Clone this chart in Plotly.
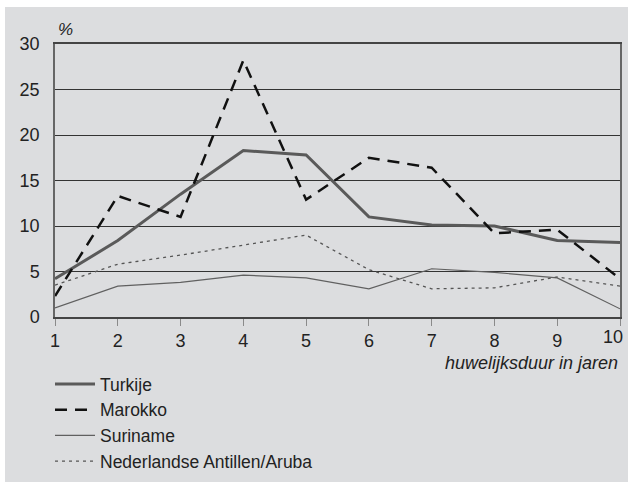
import plotly.graph_objects as go

years = [1, 2, 3, 4, 5, 6, 7, 8, 9, 10]
x_tick_labels = ["1", "2", "3", "4", "5", "6", "7", "8", "9", "10"]
turkije = [4.2, 8.4, 13.5, 18.3, 17.8, 11.0, 10.1, 10.0, 8.4, 8.2]
marokko = [2.3, 13.3, 11.0, 28.2, 12.9, 17.5, 16.4, 9.2, 9.6, 4.2]
suriname = [1.0, 3.4, 3.8, 4.6, 4.3, 3.1, 5.3, 4.9, 4.3, 0.9]
antillen = [3.5, 5.8, 6.8, 7.9, 9.0, 5.2, 3.1, 3.2, 4.4, 3.4]
y_ticks = [0, 5, 10, 15, 20, 25, 30]

FONT = "Liberation Sans, Arial, sans-serif"
GRAY_BG = "#dcdddf"
TXT = "#222222"
FS = 18

fig = go.Figure()
fig.add_trace(go.Scatter(x=years, y=turkije, mode="lines", name="Turkije",
                         line=dict(color="#5a5a5a", width=3)))
fig.add_trace(go.Scatter(x=years, y=marokko, mode="lines", name="Marokko",
                         line=dict(color="#111111", width=2.5, dash="12px,8px")))
fig.add_trace(go.Scatter(x=years, y=suriname, mode="lines", name="Suriname",
                         line=dict(color="#606060", width=1.2)))
fig.add_trace(go.Scatter(x=years, y=antillen, mode="lines", name="Nederlandse Antillen/Aruba",
                         line=dict(color="#555555", width=1.3, dash="3px,4px")))

L, R, T, B = 55, 8, 44, 165
W, H = 628, 482
pw, ph = W - L - R, H - T - B
px = lambda p: (p - L) / pw
py = lambda p: (H - B - p) / ph

# the last tick label sits slightly left of its tick in the reference (kept inside the page)
tick_text = x_tick_labels[:-1] + [""]

fig.update_layout(
    width=W, height=H,
    margin=dict(l=L, r=R, t=T, b=B, pad=0, autoexpand=False),
    paper_bgcolor="white",
    plot_bgcolor="white",
    font=dict(family=FONT, size=FS, color=TXT),
    showlegend=True,
    legend=dict(xref="container", yref="container", x=50 / W, y=1 - 366 / H,
                xanchor="left", yanchor="top",
                bgcolor="rgba(0,0,0,0)", font=dict(size=17.5, color=TXT),
                traceorder="normal", itemwidth=40),
    xaxis=dict(range=[1, 10], tickmode="array", tickvals=years, ticktext=tick_text,
               ticks="outside", ticklen=7, tickcolor="#8a8a8a", tickwidth=1,
               showgrid=False, zeroline=False,
               showline=True, linecolor="#444444", linewidth=1.5, mirror=True,
               tickfont=dict(size=FS, color=TXT)),
    yaxis=dict(range=[0, 30], tickmode="array", tickvals=y_ticks,
               ticks="", showgrid=True, gridcolor="#333333", gridwidth=1,
               zeroline=False, showline=True, linecolor="#666666", linewidth=1.5,
               mirror=True, tickfont=dict(size=FS, color=TXT), ticklabelstandoff=10),
    shapes=[
        dict(type="rect", xref="paper", yref="paper", x0=px(5), x1=px(640),
             y0=py(500), y1=py(7), fillcolor=GRAY_BG, line=dict(width=0), layer="below"),
    ],
    annotations=[
        dict(text=x_tick_labels[-1], xref="x", yref="paper", x=years[-1], y=0,
             xanchor="right", yanchor="top", xshift=5, yshift=-8, showarrow=False,
             font=dict(size=FS, color=TXT)),
        dict(text="<i>%</i>", xref="paper", yref="paper", x=px(56), y=py(30),
             xanchor="left", yanchor="middle", showarrow=False,
             font=dict(size=17, color=TXT)),
        dict(text="<i>huwelijksduur in jaren</i>", xref="paper", yref="paper",
             x=px(620), y=py(363), xanchor="right", yanchor="middle", showarrow=False,
             font=dict(size=FS, color=TXT)),
    ],
)

fig.write_html(
    "out.html",
    config={"displayModeBar": False},
    post_script="document.body.style.margin='0';document.documentElement.style.overflow='hidden';document.body.style.overflow='hidden';",
)
